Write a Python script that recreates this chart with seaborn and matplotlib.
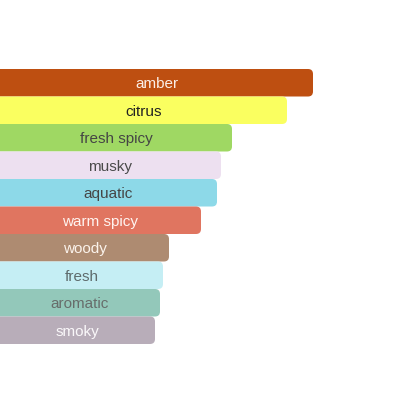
import matplotlib
matplotlib.use("Agg")
import matplotlib.pyplot as plt
import seaborn as sns
import pandas as pd
from matplotlib.patches import FancyBboxPatch

categorias = ["amber", "citrus", "fresh spicy", "musky", "aquatic",
              "warm spicy", "woody", "fresh", "aromatic", "smoky"]
valores = [313, 287, 232, 221, 217, 201, 169, 163, 160, 155]
colores = ["#BE4F11", "#FAFF60", "#9FD863", "#EDE0F0", "#8DD9E8",
           "#E07560", "#AE8B71", "#C5EEF4", "#93C8BA", "#B8ADB9"]
colores_texto = ["#FBEFE8", "#222222", "#454545", "#4A4A4A", "#454545",
                 "#FFF4F0", "#FBF3EC", "#5E6B6C", "#676D6B", "#FAF8FA"]

df = pd.DataFrame({"acorde": categorias, "valor": valores})

fig = plt.figure(figsize=(4.16, 4.16), dpi=100)
ax = fig.add_axes([0, 0, 1, 1])

sns.barplot(data=df, x="valor", y="acorde", hue="acorde",
            palette=dict(zip(categorias, colores)), width=1.0,
            saturation=1, legend=False, ax=ax, orient="h")

px_fila = 27.5
ax.set_xlim(0, 416)
ax.set_ylim(9.5 + 72 / px_fila, -0.5 - 69 / px_fila)

# barras con esquinas redondeadas a la derecha
for p in list(ax.patches):
    x0, y0 = p.get_x(), p.get_y()
    w, h = p.get_width(), p.get_height()
    color = p.get_facecolor()
    p.remove()
    caja = FancyBboxPatch((x0 - 20, y0), w + 20, h,
                          boxstyle="round,pad=0,rounding_size=5",
                          mutation_aspect=1 / px_fila,
                          facecolor=color, edgecolor="none")
    ax.add_patch(caja)

for i, (nombre, v) in enumerate(zip(categorias, valores)):
    ax.text(v / 2, i, nombre, ha="center", va="center_baseline",
            fontsize=11, family="Liberation Sans", color=colores_texto[i])

ax.axis("off")
fig.savefig("out.png", dpi=100)
